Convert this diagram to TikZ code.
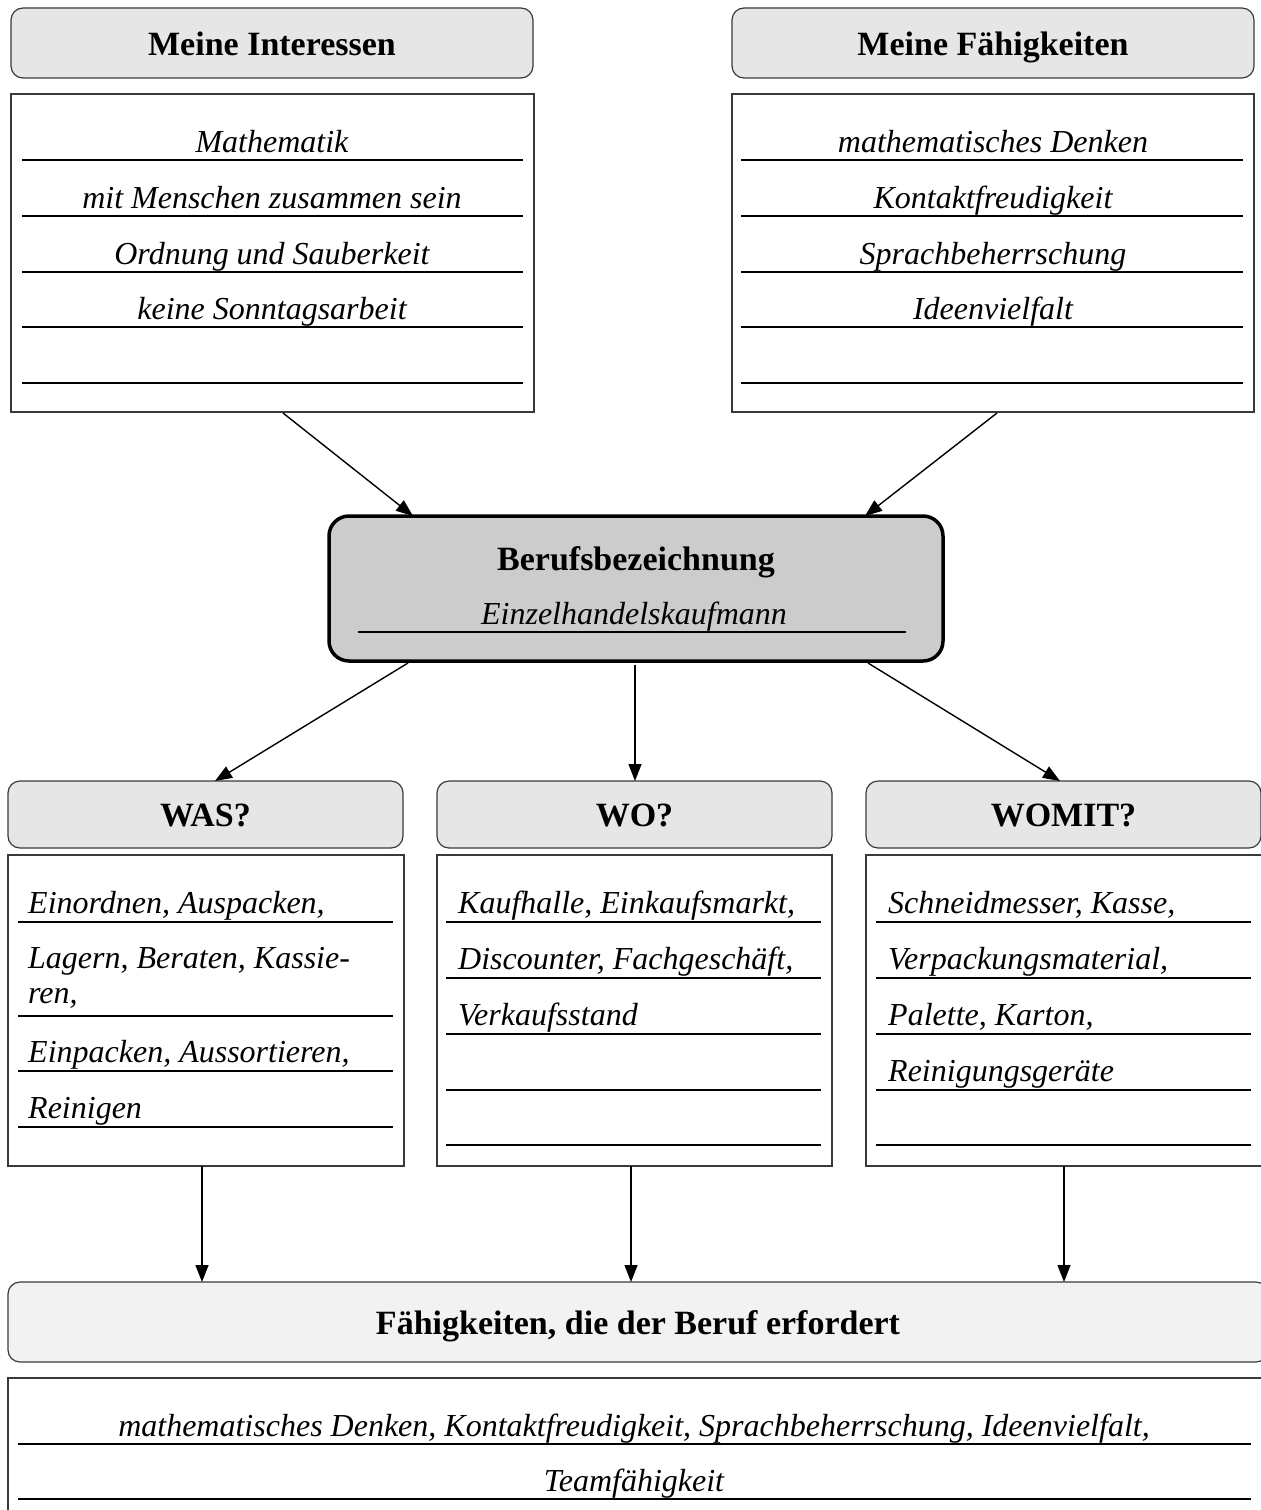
\documentclass[tikz,border=0pt]{standalone}
\usepackage{fontspec}
\setmainfont{Liberation Serif}
\usetikzlibrary{arrows.meta}
\definecolor{hdrgray}{HTML}{E6E6E6}
\definecolor{hdrlight}{HTML}{F2F2F2}
\definecolor{midgray}{HTML}{CCCCCC}
\definecolor{edgegray}{HTML}{3A3A3A}
\begin{document}
\begin{tikzpicture}[x=1pt,y=-1pt,
  hdr/.style={draw=edgegray, line width=1.2pt, rounded corners=12pt, fill=hdrgray, inner sep=0pt,
    text height=24pt, text depth=0pt,
    font=\fontsize{34}{40}\selectfont\bfseries},
  listbox/.style={draw=edgegray, line width=1.2pt, fill=white, inner sep=0pt},
  item/.style={anchor=base, inner sep=0pt, font=\fontsize{32}{38}\selectfont\itshape},
  itemL/.style={item, anchor=base west},
  rule/.style={line width=2pt},
  conn/.style={line width=1.4pt, -{Triangle[length=17pt,width=13pt]}}
]
\useasboundingbox (0,0) rectangle (1261,1510);

% top headers and boxes
\node[hdr, minimum width=522pt, minimum height=70pt] (hI) at (272,43) {Meine Interessen};
\node[hdr, minimum width=522pt, minimum height=70pt] (hF) at (993,43) {Meine Fähigkeiten};
\node[listbox, minimum width=523pt, minimum height=318pt] (bI) at (272.5,253) {};
\node[listbox, minimum width=522pt, minimum height=318pt] (bF) at (993,253) {};

\foreach \y in {160,216,272,327,383} {
  \draw[rule] (22,\y) -- (523,\y);
  \draw[rule] (741,\y) -- (1243,\y);
}
\node[item] (i1) at (272,152) {Mathematik};
\node[item] (i2) at (272,208) {mit Menschen zusammen sein};
\node[item] (i3) at (272,264) {Ordnung und Sauberkeit};
\node[item] (i4) at (272,319) {keine Sonntagsarbeit};
\node[item] (f1) at (993,152) {mathematisches Denken};
\node[item] (f2) at (993,208) {Kontaktfreudigkeit};
\node[item] (f3) at (993,264) {Sprachbeherrschung};
\node[item] (f4) at (993,319) {Ideenvielfalt};

% central box
\node[draw=black, line width=3.5pt, rounded corners=20pt, fill=midgray, inner sep=0pt,
  minimum width=614pt, minimum height=145pt] (beruf) at (636,588.5) {};
\node[anchor=base, inner sep=0pt, font=\fontsize{34}{40}\selectfont\bfseries] (bt) at (636,570) {Berufsbezeichnung};
\node[item] (bv) at (634,624) {Einzelhandelskaufmann};
\draw[rule] (358,632) -- (906,632);

% arrows into central box
\coordinate (a1s) at (283,413); \coordinate (a1e) at (413,516);
\coordinate (a2s) at (997,413); \coordinate (a2e) at (865,516);
\draw[conn] (a1s) -- (a1e);
\draw[conn] (a2s) -- (a2e);

% middle headers
\node[hdr, minimum width=395pt, minimum height=67pt] (hWas) at (205.5,814.5) {WAS?};
\node[hdr, minimum width=395pt, minimum height=67pt] (hWo) at (634.5,814.5) {WO?};
\node[hdr, minimum width=395pt, minimum height=67pt] (hWomit) at (1063.5,814.5) {WOMIT?};

% arrows out of central box
\coordinate (b1s) at (408,663); \coordinate (b1e) at (215,781);
\coordinate (b2s) at (635,665); \coordinate (b2e) at (635,781);
\coordinate (b3s) at (868,663); \coordinate (b3e) at (1060,781);
\draw[conn] (b1s) -- (b1e);
\draw[conn] (b2s) -- (b2e);
\draw[conn] (b3s) -- (b3e);

% middle boxes
\node[listbox, minimum width=396pt, minimum height=311pt] (bWas) at (206,1010.5) {};
\node[listbox, minimum width=395pt, minimum height=311pt] (bWo) at (634.5,1010.5) {};
\node[listbox, minimum width=400pt, minimum height=311pt] (bWomit) at (1066,1010.5) {};

\foreach \y in {922,1016,1071,1127} \draw[rule] (18,\y) -- (393,\y);
\foreach \y in {922,978,1034,1090,1145} {
  \draw[rule] (446,\y) -- (821,\y);
  \draw[rule] (876,\y) -- (1251,\y);
}
\node[itemL] (w1) at (28,913) {Einordnen, Auspacken,};
\node[itemL] (w2) at (28,968) {Lagern, Beraten, Kassie-};
\node[itemL] (w3) at (28,1003) {ren,};
\node[itemL] (w4) at (28,1062) {Einpacken, Aussortieren,};
\node[itemL] (w5) at (28,1118) {Reinigen};
\node[itemL] (o1) at (458,913) {Kaufhalle, Einkaufsmarkt,};
\node[itemL] (o2) at (458,969) {Discounter, Fachgeschäft,};
\node[itemL] (o3) at (458,1025) {Verkaufsstand};
\node[itemL] (m1) at (888,913) {Schneidmesser, Kasse,};
\node[itemL] (m2) at (888,969) {Verpackungsmaterial,};
\node[itemL] (m3) at (888,1025) {Palette, Karton,};
\node[itemL] (m4) at (888,1081) {Reinigungsgeräte};

% bottom header and box
\node[hdr, fill=hdrlight, minimum width=1260pt, minimum height=80pt] (hBot) at (638,1322) {Fähigkeiten, die der Beruf erfordert};
\node[listbox, minimum width=1260pt, minimum height=140pt] (bBot) at (638,1448) {};
\draw[rule] (18,1444) -- (1251,1444);
\draw[rule] (18,1499) -- (1251,1499);
\node[item] (r1) at (634,1436) {mathematisches Denken, Kontaktfreudigkeit, Sprachbeherrschung, Ideenvielfalt,};
\node[item] (r2) at (634,1491) {Teamfähigkeit};

% arrows down
\coordinate (c1s) at (202,1166); \coordinate (c1e) at (202,1282);
\coordinate (c2s) at (631,1166); \coordinate (c2e) at (631,1282);
\coordinate (c3s) at (1064,1166); \coordinate (c3e) at (1064,1282);
\draw[conn] (c1s) -- (c1e);
\draw[conn] (c2s) -- (c2e);
\draw[conn] (c3s) -- (c3e);
\end{tikzpicture}
\end{document}
